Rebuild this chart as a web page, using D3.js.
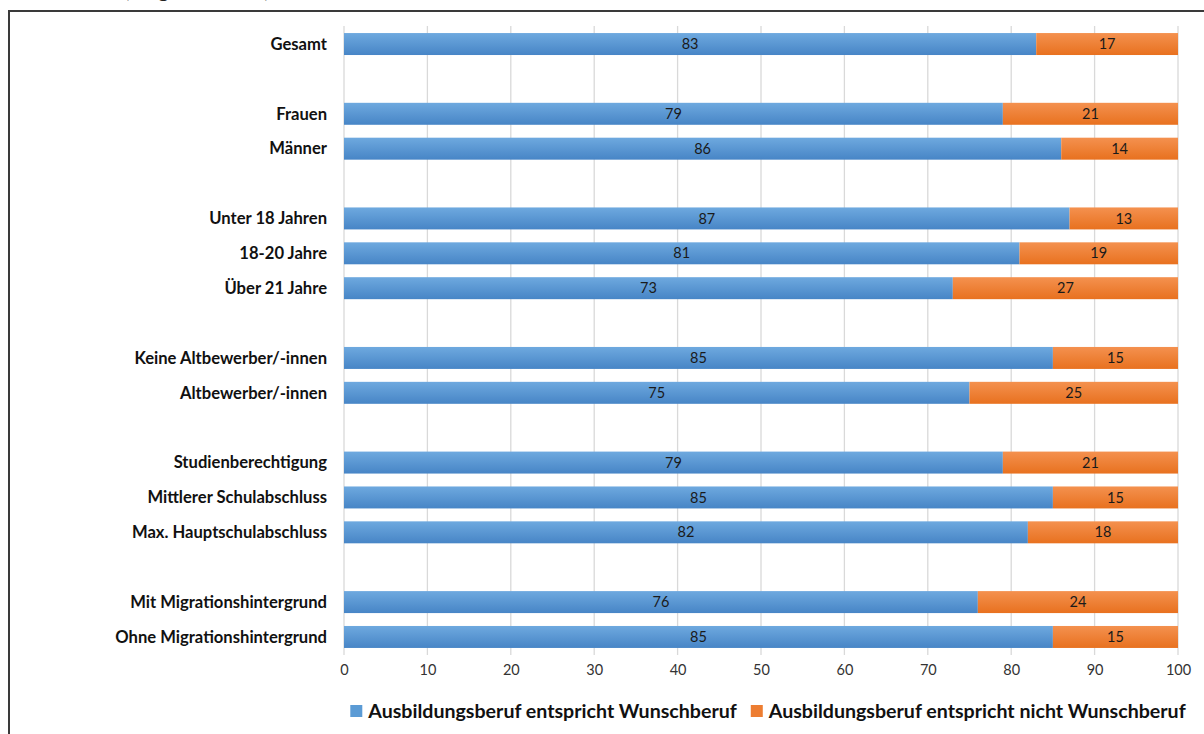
<!DOCTYPE html>
<html>
<head>
<meta charset="utf-8">
<script src="https://cdn.jsdelivr.net/npm/d3@7"></script>
<style>
  html, body { margin: 0; padding: 0; background: #fff; }
  svg { display: block; }
  text { font-family: Lato, "Open Sans", "Noto Sans", sans-serif; }
</style>
</head>
<body>
<svg id="chart" width="1204" height="734"></svg>
<script>
// Rows from top to bottom; null marks an empty spacer row between groups
const categories = [
  "Gesamt", null,
  "Frauen", "Männer", null,
  "Unter 18 Jahren", "18-20 Jahre", "Über 21 Jahre", null,
  "Keine Altbewerber/-innen", "Altbewerber/-innen", null,
  "Studienberechtigung", "Mittlerer Schulabschluss", "Max. Hauptschulabschluss", null,
  "Mit Migrationshintergrund", "Ohne Migrationshintergrund"
];
const wunschberuf      = [83, null, 79, 86, null, 87, 81, 73, null, 85, 75, null, 79, 85, 82, null, 76, 85];
const nichtWunschberuf = [17, null, 21, 14, null, 13, 19, 27, null, 15, 25, null, 21, 15, 18, null, 24, 15];
const seriesNames = ["Ausbildungsberuf entspricht Wunschberuf", "Ausbildungsberuf entspricht nicht Wunschberuf"];
const xTicks = [0, 10, 20, 30, 40, 50, 60, 70, 80, 90, 100];

const svg = d3.select("#chart");

// Excel-style shaded fills
const defs = svg.append("defs");
function grad(id, top, bottom) {
  const g = defs.append("linearGradient").attr("id", id)
    .attr("x1", 0).attr("y1", 0).attr("x2", 0).attr("y2", 1);
  g.append("stop").attr("offset", "0%").attr("stop-color", top);
  g.append("stop").attr("offset", "100%").attr("stop-color", bottom);
}
grad("gBlue", "#6ea9df", "#4785c6");
grad("gOrange", "#f4914f", "#e8711f");
const colors = ["url(#gBlue)", "url(#gOrange)"];
const legendColors = ["#5b9bd5", "#ed7d31"];

// Heading above the frame, cut by the upper edge of the page
svg.append("text")
  .attr("x", 124).attr("y", -3)
  .attr("font-size", 22).attr("font-weight", "bold").attr("fill", "#222")
  .text("(Angaben in %)");

// Outer frame
svg.append("path")
  .attr("d", "M9,740 L9,11 L1210,11")
  .attr("fill", "none").attr("stroke", "#3a3a3a").attr("stroke-width", 2);

const x = d3.scaleLinear().domain([0, 100]).range([344, 1178]);
const rowIdx = d3.range(categories.length);
const y = d3.scaleBand().domain(rowIdx).range([26.6, 654.4]).paddingInner(0.37).paddingOuter(0.185);

// Vertical gridlines
svg.append("g").selectAll("line").data(xTicks).join("line")
  .attr("x1", d => x(d)).attr("x2", d => x(d))
  .attr("y1", 26).attr("y2", 655)
  .attr("stroke", "#d9d9d9").attr("stroke-width", 1.3);

// Axis tick labels
const axis = svg.append("g").attr("transform", "translate(0,655)")
  .call(d3.axisBottom(x).tickValues(xTicks).tickSize(0).tickPadding(10));
axis.select(".domain").remove();
axis.selectAll("text").attr("font-size", 14.5).attr("fill", "#333")
  .attr("font-family", "Lato, 'Open Sans', sans-serif");

// Stacked bars
const rows = rowIdx.filter(i => categories[i] !== null).map(i => ({
  i, name: categories[i], vals: [wunschberuf[i], nichtWunschberuf[i]]
}));

const rowG = svg.append("g").selectAll("g").data(rows).join("g");
rowG.each(function(d) {
  const g = d3.select(this);
  let start = 0;
  d.vals.forEach((v, k) => {
    g.append("rect")
      .attr("x", x(start)).attr("y", y(d.i))
      .attr("width", x(start + v) - x(start)).attr("height", y.bandwidth())
      .attr("fill", colors[k]);
    g.append("text")
      .attr("x", (x(start) + x(start + v)) / 2)
      .attr("y", y(d.i) + y.bandwidth() / 2)
      .attr("dy", "0.35em").attr("text-anchor", "middle")
      .attr("font-size", 14.5).attr("fill", "#1a1a1a")
      .text(v);
    start += v;
  });
});

// Category labels
svg.append("g").selectAll("text").data(rows).join("text")
  .attr("x", 327).attr("y", d => y(d.i) + y.bandwidth() / 2)
  .attr("dy", "0.35em").attr("text-anchor", "end")
  .attr("font-size", 16.6).attr("font-weight", "bold").attr("fill", "#111")
  .text(d => d.name);

// Legend, centred under the plot
const legend = svg.append("g");
let lx = 0;
seriesNames.forEach((name, k) => {
  legend.append("rect").attr("x", lx).attr("y", -6).attr("width", 12).attr("height", 12)
    .attr("fill", legendColors[k]);
  const t = legend.append("text").attr("x", lx + 18).attr("y", 0).attr("dy", "0.35em")
    .attr("font-size", 19.6).attr("font-weight", "bold").attr("fill", "#111").text(name);
  lx += 18 + t.node().getComputedTextLength() + 14;
});
const lw = lx - 14;
legend.attr("transform", `translate(${768 - lw / 2},711)`);
</script>
</body>
</html>
